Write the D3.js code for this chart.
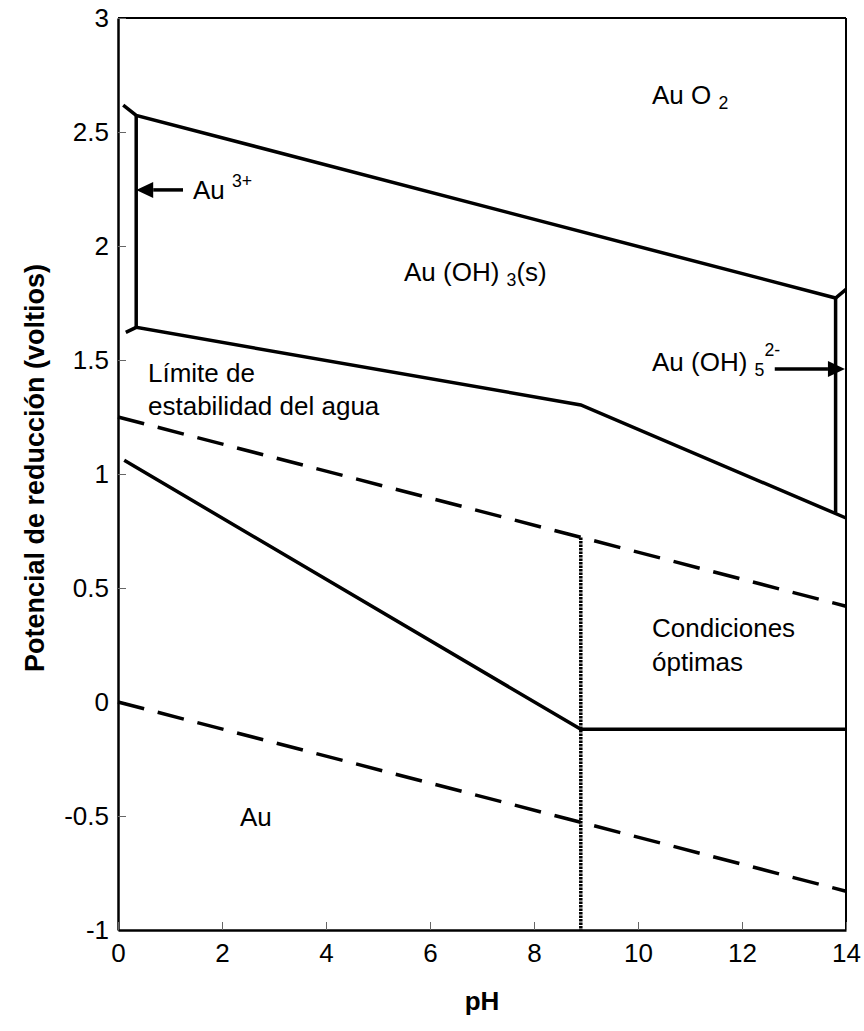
<!DOCTYPE html>
<html>
<head>
<meta charset="utf-8">
<script src="https://cdn.jsdelivr.net/npm/d3@7"></script>
<style>
  html, body { margin: 0; padding: 0; background: #fff; }
  svg { display: block; font-family: "Liberation Sans", Arial, sans-serif; }
</style>
</head>
<body>
<svg id="chart" width="864" height="1031"></svg>
<script>
// ---- data ----
const xTicks = [0, 2, 4, 6, 8, 10, 12, 14];
const yTicks = [3, 2.5, 2, 1.5, 1, 0.5, 0, -0.5, -1];
const yTickLabels = ["3", "2.5", "2", "1.5", "1", "0.5", "0", "-0.5", "-1"];

// solid boundary lines [pH, E]
const upperBoundary = [[0.1, 2.618], [0.35, 2.573], [13.8, 1.772], [14, 1.81]];
const leftVertical = [[0.35, 2.573], [0.35, 1.643]];
const lowerBoundary = [[0.15, 1.621], [0.35, 1.643], [8.9, 1.303], [14, 0.807]];
const rightVertical = [[13.8, 1.772], [13.8, 0.83]];
const auLine = [[0.12, 1.06], [8.9, -0.12], [14, -0.12]];
// water stability limits (dashed)
const waterUpper = [[0, 1.25], [14, 0.42]];
const waterLower = [[0, 0], [14, -0.83]];
// dotted vertical at pH 8.9
const optimalVertical = [[8.9, 0.722], [8.9, -1]];
// arrows [from, to]
const arrowAu3 = [[1.25, 2.246], [0.35, 2.246]];
const arrowAuOH5 = [[12.63, 1.46], [13.98, 1.46]];

// ---- layout ----
const svg = d3.select("#chart");
const m = { left: 118, right: 846, top: 18, bottom: 930 };
const x = d3.scaleLinear().domain([0, 14]).range([m.left, m.right]);
const y = d3.scaleLinear().domain([-1, 3]).range([m.bottom, m.top]);
const FS = 26;

// frame (top/right)
svg.append("line").attr("x1", m.left).attr("x2", m.right).attr("y1", m.top).attr("y2", m.top)
  .attr("stroke", "#000").attr("stroke-width", 2);
svg.append("line").attr("x1", m.right).attr("x2", m.right).attr("y1", m.top).attr("y2", m.bottom)
  .attr("stroke", "#000").attr("stroke-width", 2);

// axes
const yAxis = d3.axisLeft(y).tickValues(yTicks).tickFormat((d, i) => yTickLabels[i])
  .tickSizeInner(-8).tickSizeOuter(0).tickPadding(9);
const gy = svg.append("g").attr("transform", `translate(${m.left},0)`).call(yAxis);
const xAxis = d3.axisBottom(x).tickValues(xTicks).tickFormat(d => String(d))
  .tickSizeInner(-8).tickSizeOuter(0).tickPadding(9);
const gx = svg.append("g").attr("transform", `translate(0,${m.bottom})`).call(xAxis);
[gx, gy].forEach(g => {
  g.select(".domain").attr("stroke", "#000").attr("stroke-width", 2.5);
  g.selectAll(".tick line").attr("stroke", "#666").attr("stroke-width", 1);
  g.selectAll(".tick text").attr("font-size", FS).attr("fill", "#000")
    .attr("font-family", "Liberation Sans, Arial, sans-serif");
});
gx.selectAll(".tick text").attr("dy", "0.9em");

// axis titles
svg.append("text").attr("x", (m.left + m.right) / 2).attr("y", 1010)
  .attr("text-anchor", "middle").attr("font-size", FS).attr("font-weight", "bold").text("pH");
svg.append("text").attr("transform", `translate(44,${(m.top + m.bottom) / 2 - 6}) rotate(-90)`)
  .attr("text-anchor", "middle").attr("font-size", FS + 1).attr("font-weight", "bold")
  .text("Potencial de reducción (voltios)");

// lines
const line = d3.line().x(d => x(d[0])).y(d => y(d[1]));
const solid = [upperBoundary, leftVertical, lowerBoundary, rightVertical, auLine];
solid.forEach(s => svg.append("path").attr("d", line(s)).attr("fill", "none")
  .attr("stroke", "#000").attr("stroke-width", 3.5).attr("stroke-linejoin", "miter"));
[waterUpper, waterLower].forEach(s => svg.append("path").attr("d", line(s)).attr("fill", "none")
  .attr("stroke", "#000").attr("stroke-width", 3.5).attr("stroke-dasharray", "27 14"));
svg.append("path").attr("d", line(optimalVertical)).attr("fill", "none")
  .attr("stroke", "#000").attr("stroke-width", 3.5).attr("stroke-dasharray", "2.5 1");

// arrows
function arrow(a) {
  const x1 = x(a[0][0]), y1 = y(a[0][1]), x2 = x(a[1][0]), y2 = y(a[1][1]);
  const dir = Math.sign(x2 - x1), hl = 17, hw = 8;
  svg.append("line").attr("x1", x1).attr("y1", y1).attr("x2", x2 - dir * hl).attr("y2", y2)
    .attr("stroke", "#000").attr("stroke-width", 3.5);
  svg.append("path").attr("d", `M${x2},${y2}L${x2 - dir * hl},${y2 - hw}L${x2 - dir * hl},${y2 + hw}Z`)
    .attr("fill", "#000");
}
arrow(arrowAu3);
arrow(arrowAuOH5);

// labels
function label(px, py, parts) {
  const t = svg.append("text").attr("x", px).attr("y", py).attr("font-size", FS).attr("fill", "#000");
  parts.forEach(p => {
    const ts = t.append("tspan").text(p.t);
    if (p.sub) ts.attr("font-size", FS * 0.68).attr("dy", p.dy || 0);
    else if (p.dy) ts.attr("dy", p.dy);
  });
  return t;
}
label(652, 104, [{ t: "Au O " }, { t: "2", sub: true, dy: 5 }]);
label(193, 199, [{ t: "Au " }, { t: "3+", sub: true, dy: -12 }]);
label(404, 281, [{ t: "Au (OH) " }, { t: "3", sub: true, dy: 5 }, { t: "(s)", dy: -5 }]);
label(652, 371, [{ t: "Au (OH) " }, { t: "5", sub: true, dy: 5 }, { t: "2-", sub: true, dy: -20 }]);
label(148, 382, [{ t: "Límite de" }]);
label(148, 415, [{ t: "estabilidad del agua" }]);
label(652, 637, [{ t: "Condiciones" }]);
label(652, 671, [{ t: "óptimas" }]);
label(240, 826, [{ t: "Au" }]);
</script>
</body>
</html>
